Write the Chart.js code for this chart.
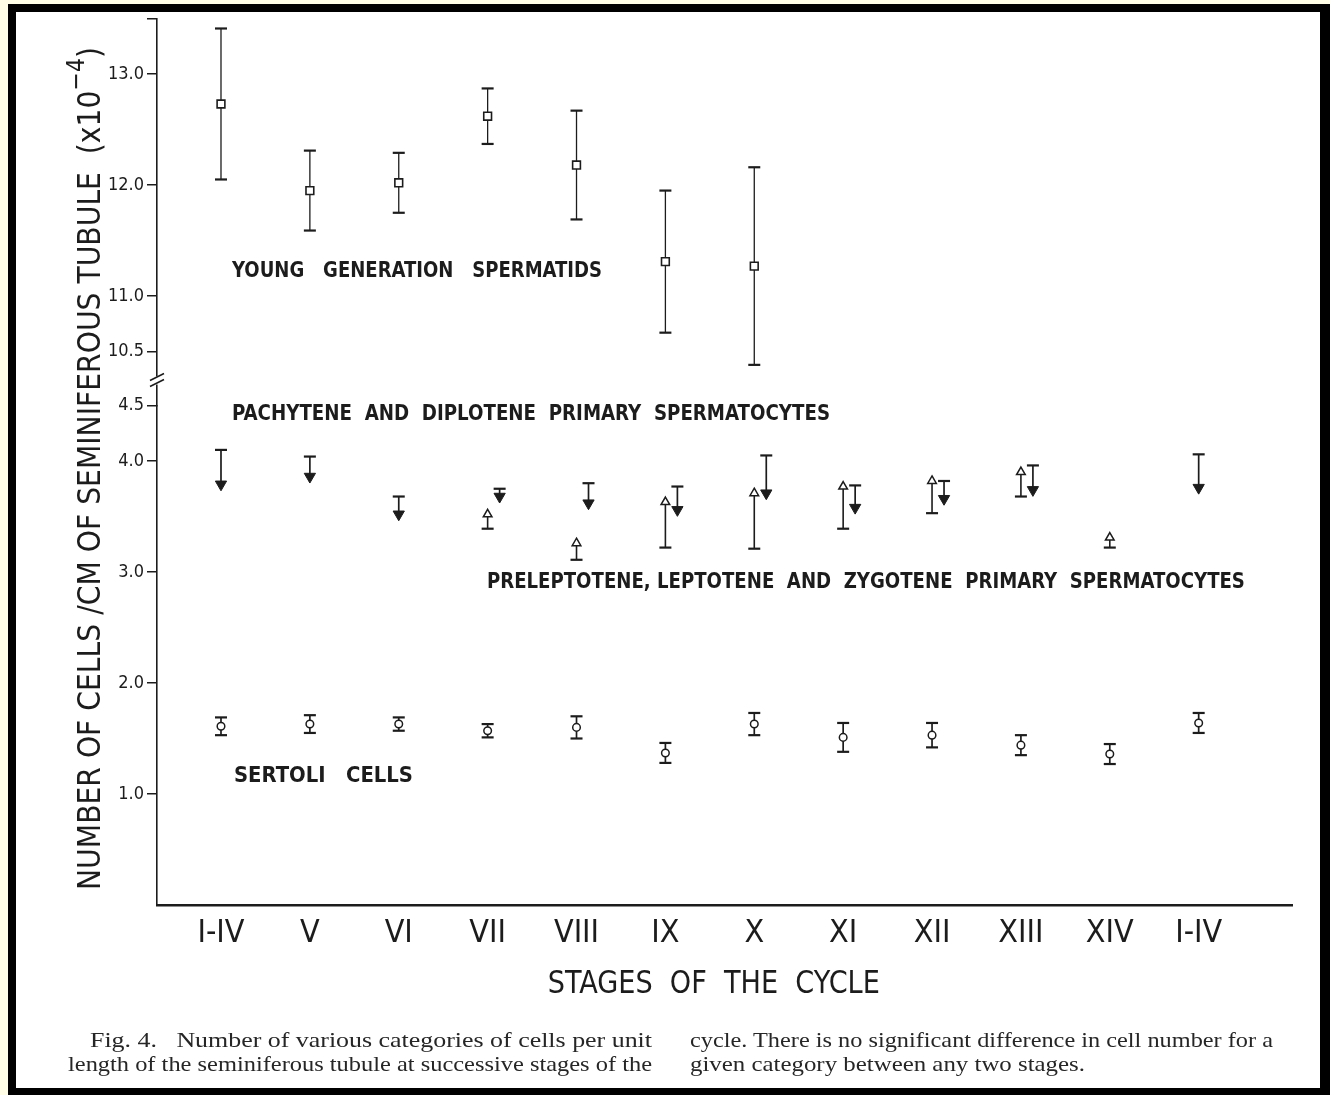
<!DOCTYPE html>
<html>
<head>
<meta charset="utf-8">
<script src="https://cdn.jsdelivr.net/npm/chart.js@4.4.1/dist/chart.umd.min.js"></script>
<style>
html, body { margin: 0; padding: 0; background: #fffde6; }
#frame { position: absolute; left: 8px; top: 4px; width: 1304px; height: 1076px;
  border-style: solid; border-color: #000; border-width: 8px 10px 7px 8px; background: #fff; }
#chart { position: absolute; left: 0; top: 0; }
.cap { position: absolute; font-family: 'Liberation Serif', 'DejaVu Serif', serif; font-size: 21px;
  line-height: 24px; color: #262626; white-space: nowrap; transform-origin: 0 0; }
</style>
</head>
<body>
<div id="frame"></div>
<canvas id="chart" width="1330" height="1095"></canvas>
<div class="cap" data-w="562" style="left:90px; top:1028px;">Fig. 4.&nbsp;&nbsp; Number of various categories of cells per unit</div>
<div class="cap" data-w="584" style="left:68px; top:1052px;">length of the seminiferous tubule at successive stages of the</div>
<div class="cap" data-w="583" style="left:690px; top:1028px;">cycle. There is no significant difference in cell number for a</div>
<div class="cap" data-w="395" style="left:690px; top:1052px;">given category between any two stages.</div>
<script>
const stages = ['I-IV', 'V', 'VI', 'VII', 'VIII', 'IX', 'X', 'XI', 'XII', 'XIII', 'XIV', 'I-IV'];

// young generation spermatids (upper part of the axis), mean and s.e.
const spermatidMean = [12.73, 11.95, 12.02, 12.62, 12.18, 11.31, 11.27, null, null, null, null, null];
const spermatidSE   = [0.68, 0.36, 0.27, 0.25, 0.49, 0.64, 0.89, null, null, null, null, null];

// pachytene and diplotene primary spermatocytes (bar drawn upward)
const pachyteneMean = [3.79, 3.86, 3.52, 3.68, 3.62, 3.56, 3.71, 3.58, 3.66, 3.74, null, 3.76];
const pachyteneSE   = [0.31, 0.18, 0.16, 0.07, 0.18, 0.21, 0.34, 0.20, 0.16, 0.22, null, 0.30];

// preleptotene, leptotene and zygotene primary spermatocytes (bar drawn downward)
const preleptoteneMean = [null, null, null, 3.52, 3.26, 3.63, 3.71, 3.77, 3.82, 3.90, 3.31, null];
const preleptoteneSE   = [null, null, null, 0.13, 0.15, 0.41, 0.50, 0.38, 0.29, 0.22, 0.09, null];

// sertoli cells
const sertoliMean = [1.61, 1.63, 1.63, 1.57, 1.60, 1.37, 1.63, 1.51, 1.53, 1.44, 1.36, 1.64];
const sertoliSE   = [0.08, 0.08, 0.06, 0.06, 0.10, 0.09, 0.10, 0.13, 0.11, 0.09, 0.09, 0.09];

const lowTicks = [1.0, 2.0, 3.0, 4.0, 4.5];
const highTicks = [10.5, 11.0, 12.0, 13.0, 13.5];

const INK = '#1c1c1c';
const LEROY = "'DejaVu Sans Condensed', 'Liberation Sans Narrow', 'DejaVu Sans', sans-serif";

// squeeze each caption line to the width it has in the printed figure
document.querySelectorAll('.cap').forEach(el => {
  const w = el.getBoundingClientRect().width;
  el.style.transform = 'scaleX(' + (Number(el.dataset.w) / w) + ')';
});

function points(mean, shift) {
  const out = [];
  mean.forEach((v, i) => {
    if (v !== null) out.push({ x: i + (shift ? shift(i) : 0), y: v, i: i });
  });
  return out;
}

// pachytene marks sit a little to the right where both spermatocyte kinds are plotted
const dodge = i => (preleptoteneMean[i] !== null ? 0.135 : 0);

const errorBars = {
  id: 'errorBars',
  beforeDatasetsDraw(chart) {
    const ctx = chart.ctx;
    chart.data.datasets.forEach((ds, di) => {
      const meta = chart.getDatasetMeta(di);
      const ys = chart.scales[ds.yAxisID];
      meta.data.forEach((pt, k) => {
        const raw = ds.data[k];
        const up = ds.errUp ? ds.errUp[raw.i] : 0;
        const dn = ds.errDown ? ds.errDown[raw.i] : 0;
        const yTop = ys.getPixelForValue(raw.y + up);
        const yBot = ys.getPixelForValue(raw.y - dn);
        const cw = ds.capHalf;
        ctx.save();
        ctx.strokeStyle = INK;
        ctx.lineWidth = ds.barWidth;
        ctx.beginPath(); ctx.moveTo(pt.x, yTop); ctx.lineTo(pt.x, yBot); ctx.stroke();
        ctx.lineWidth = 2.2;
        if (up) { ctx.beginPath(); ctx.moveTo(pt.x - cw, yTop); ctx.lineTo(pt.x + cw, yTop); ctx.stroke(); }
        if (dn) { ctx.beginPath(); ctx.moveTo(pt.x - cw, yBot); ctx.lineTo(pt.x + cw, yBot); ctx.stroke(); }
        ctx.restore();
      });
    });
  }
};

function fitText(ctx, text, x, y, width, font) {
  ctx.font = font;
  const w = ctx.measureText(text).width;
  ctx.save();
  ctx.translate(x, y);
  ctx.scale(width / w, 1);
  ctx.textAlign = 'left';
  ctx.textBaseline = 'alphabetic';
  ctx.fillText(text, 0, 0);
  ctx.restore();
}

const notes = [
  { text: 'YOUNG   GENERATION   SPERMATIDS', x: 0.124, y: 11.171, axis: 'yHigh', width: 370 },
  { text: 'PACHYTENE  AND  DIPLOTENE  PRIMARY  SPERMATOCYTES', x: 0.124, y: 4.369, axis: 'yLow', width: 598 },
  { text: 'PRELEPTOTENE, LEPTOTENE  AND  ZYGOTENE  PRIMARY  SPERMATOCYTES', x: 2.992, y: 2.856, axis: 'yLow', width: 758 },
  { text: 'SERTOLI   CELLS', x: 0.146, y: 1.108, axis: 'yLow', width: 179 }
];

const lettering = {
  id: 'lettering',
  afterDraw(chart) {
    const ctx = chart.ctx;
    const xs = chart.scales.x;
    const lo = chart.scales.yLow;
    const hi = chart.scales.yHigh;
    ctx.save();
    ctx.fillStyle = INK;
    notes.forEach(n => {
      fitText(ctx, n.text, xs.getPixelForValue(n.x), chart.scales[n.axis].getPixelForValue(n.y),
        n.width, 'bold 21px ' + LEROY);
    });

    // x axis title
    fitText(ctx, 'STAGES  OF  THE  CYCLE', xs.getPixelForValue(5.545) - 166, chart.chartArea.bottom + 88,
      332, '32px ' + LEROY);

    // y axis title with superscript
    const main = 'NUMBER OF CELLS /CM OF SEMINIFEROUS TUBULE  (x10';
    const sup = '\u22124';
    const close = ')';
    ctx.font = '32px ' + LEROY;
    const w1 = ctx.measureText(main).width;
    const w3 = ctx.measureText(close).width;
    ctx.font = '25px ' + LEROY;
    const w2 = ctx.measureText(sup).width;
    ctx.translate(chart.chartArea.left - 57, chart.chartArea.bottom - 15);
    ctx.rotate(-Math.PI / 2);
    ctx.scale(843 / (w1 + w2 + w3), 1);
    ctx.textBaseline = 'alphabetic';
    ctx.font = '32px ' + LEROY;
    ctx.fillText(main, 0, 0);
    ctx.fillText(close, w1 + w2, 0);
    ctx.font = '25px ' + LEROY;
    ctx.fillText(sup, w1, -16);
    ctx.restore();

    // axis break
    const ax = chart.chartArea.left;
    const yb = (hi.getPixelForValue(10.5) + lo.getPixelForValue(4.5)) / 2 + 3;
    ctx.save();
    ctx.fillStyle = '#fff';
    ctx.fillRect(ax - 3, yb - 5, 6, 8);
    ctx.strokeStyle = INK;
    ctx.lineWidth = 1.6;
    ctx.beginPath();
    ctx.moveTo(ax - 7, yb - 1); ctx.lineTo(ax + 7, yb - 8);
    ctx.moveTo(ax - 7, yb + 5); ctx.lineTo(ax + 7, yb - 2);
    ctx.stroke();
    ctx.restore();
  }
};

const yTickFont = { family: LEROY, size: 18 };

new Chart(document.getElementById('chart'), {
  type: 'scatter',
  data: {
    datasets: [
      {
        label: 'Young generation spermatids',
        data: points(spermatidMean),
        yAxisID: 'yHigh',
        errUp: spermatidSE, errDown: spermatidSE, capHalf: 6, barWidth: 1.3,
        pointStyle: 'rect', pointRadius: 5.5, pointBackgroundColor: '#fff',
        pointBorderColor: INK, pointBorderWidth: 1.6
      },
      {
        label: 'Pachytene and diplotene primary spermatocytes',
        data: points(pachyteneMean, dodge),
        yAxisID: 'yLow',
        errUp: pachyteneSE, capHalf: 6, barWidth: 1.7,
        pointStyle: 'triangle', rotation: 180, pointRadius: 6.5, pointBackgroundColor: INK,
        pointBorderColor: INK, pointBorderWidth: 1
      },
      {
        label: 'Preleptotene, leptotene and zygotene primary spermatocytes',
        data: points(preleptoteneMean),
        yAxisID: 'yLow',
        errDown: preleptoteneSE, capHalf: 6, barWidth: 1.6,
        pointStyle: 'triangle', pointRadius: 5, pointBackgroundColor: '#fff',
        pointBorderColor: INK, pointBorderWidth: 1.5
      },
      {
        label: 'Sertoli cells',
        data: points(sertoliMean),
        yAxisID: 'yLow',
        errUp: sertoliSE, errDown: sertoliSE, capHalf: 6, barWidth: 1.7,
        pointStyle: 'circle', pointRadius: 3.8, pointBackgroundColor: '#fff',
        pointBorderColor: INK, pointBorderWidth: 1.5
      }
    ]
  },
  options: {
    responsive: false,
    animation: false,
    layout: { padding: { top: 18.5, right: 38, left: 0, bottom: 0 } },
    plugins: { legend: { display: false }, tooltip: { enabled: false } },
    scales: {
      x: {
        type: 'linear', position: 'bottom', min: -0.72, max: 12.05,
        afterBuildTicks: s => { s.ticks = stages.map((_, i) => ({ value: i })); },
        afterFit: s => { s.height = 190; },
        ticks: { callback: v => stages[v], font: { family: LEROY, size: 32 }, color: INK,
          padding: 9, maxRotation: 0, autoSkip: false },
        grid: { display: false, drawTicks: false },
        border: { display: true, color: INK, width: 2.5 }
      },
      yLow: {
        type: 'linear', position: 'left', stack: 'y', stackWeight: 499.5, min: 0, max: 4.5,
        afterBuildTicks: s => { s.ticks = lowTicks.map(v => ({ value: v })); },
        afterFit: s => { s.width = 157; },
        ticks: { callback: v => v.toFixed(1), font: yTickFont, color: INK, padding: 3 },
        grid: { drawOnChartArea: false, drawTicks: true, tickLength: 10, color: INK, lineWidth: 1.5 },
        border: { display: true, color: INK, width: 1.6 }
      },
      yHigh: {
        type: 'linear', position: 'left', stack: 'y', stackWeight: 387, min: 10.014, max: 13.5,
        afterBuildTicks: s => { s.ticks = highTicks.map(v => ({ value: v })); },
        afterFit: s => { s.width = 157; },
        ticks: { callback: v => (v === 13.5 ? '' : v.toFixed(1)), font: yTickFont, color: INK, padding: 3 },
        grid: { drawOnChartArea: false, drawTicks: true, tickLength: 10, color: INK, lineWidth: 1.5 },
        border: { display: true, color: INK, width: 1.6 }
      }
    }
  },
  plugins: [errorBars, lettering]
});
</script>
</body>
</html>
